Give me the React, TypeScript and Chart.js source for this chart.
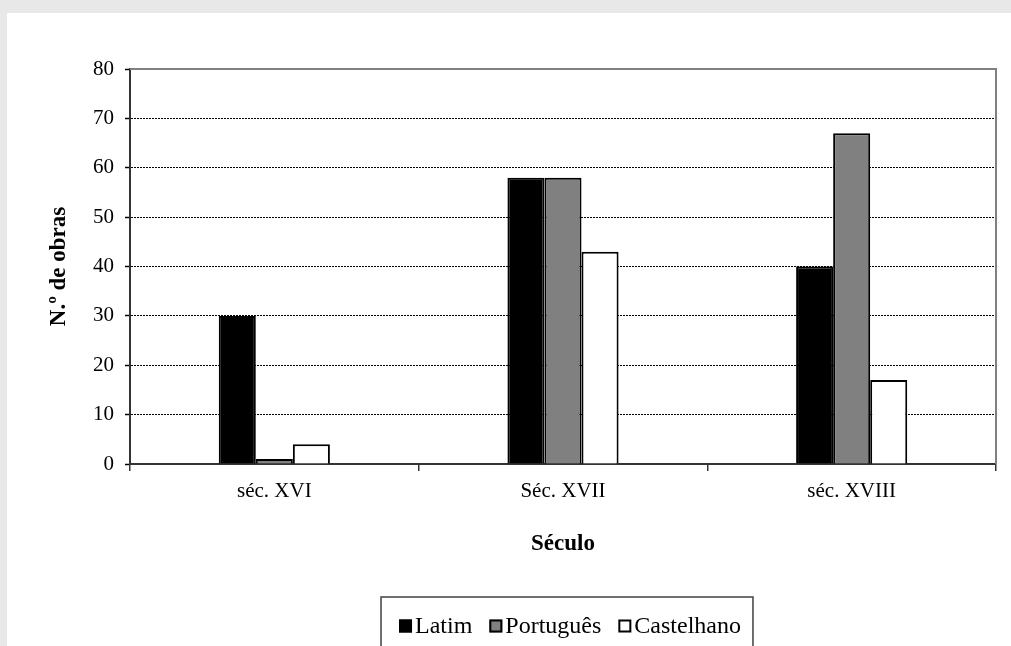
import React, { useEffect, useRef } from "react";
import { Chart, registerables } from "chart.js";

Chart.register(...registerables);

const categories = ["séc. XVI", "Séc. XVII", "séc. XVIII"];
const seriesNames = ["Latim", "Português", "Castelhano"];
const latim = [30, 58, 40];
const portugues = [1, 58, 67];
const castelhano = [4, 43, 17];
const seriesColors = ["#000000", "#808080", "#ffffff"];
const yMin = 0;
const yMax = 80;
const yStep = 10;
const xTitle = "Século";
const yTitle = "N.º de obras";

const SERIF = '"Liberation Serif", "Times New Roman", serif';

const framePlugin = {
  id: "frameLines",
  afterDraw(chart: any) {
    const { ctx, chartArea } = chart;
    ctx.save();
    ctx.strokeStyle = "#808080";
    ctx.lineWidth = 2;
    ctx.beginPath();
    ctx.moveTo(chartArea.left, chartArea.top);
    ctx.lineTo(chartArea.right, chartArea.top);
    ctx.lineTo(chartArea.right, chartArea.bottom);
    ctx.stroke();
    ctx.restore();
  },
};

const legendPlugin = {
  id: "boxedLegend",
  afterDraw(chart: any) {
    const { ctx, chartArea } = chart;
    ctx.save();
    ctx.font = `24px ${SERIF}`;
    const items = chart.data.datasets.map((ds: any) => ({
      label: ds.label as string,
      fill: ds.backgroundColor as string,
      w: ctx.measureText(ds.label).width,
    }));
    const box = 13;
    const gap = 3;
    const spacing = 17;
    const padL = 18;
    const padR = 12;
    const total =
      items.reduce((s: number, it: any) => s + box + gap + it.w, 0) +
      spacing * (items.length - 1);
    const frameW = total + padL + padR;
    const cx = (chartArea.left + chartArea.right) / 2 + 4;
    const left = cx - frameW / 2;
    const top = chartArea.bottom + 133;
    ctx.strokeStyle = "#404040";
    ctx.lineWidth = 1.5;
    ctx.strokeRect(left, top, frameW, 90);
    const cy = top + 29;
    let x = left + padL;
    ctx.textBaseline = "middle";
    ctx.textAlign = "left";
    items.forEach((it: any) => {
      ctx.fillStyle = it.fill;
      ctx.fillRect(x, cy - 6.5, box, box);
      ctx.strokeStyle = "#000";
      ctx.lineWidth = 2;
      ctx.strokeRect(x + 1, cy - 5.5, box - 2, box - 2);
      x += box + gap;
      ctx.fillStyle = "#000";
      ctx.fillText(it.label, x, cy + 1);
      x += it.w + spacing;
    });
    ctx.restore();
  },
};

export default function App() {
  const canvasRef = useRef<HTMLCanvasElement | null>(null);

  useEffect(() => {
    if (!canvasRef.current) return;
    const values = [latim, portugues, castelhano];
    const chart = new Chart(canvasRef.current, {
      type: "bar",
      data: {
        labels: categories,
        datasets: seriesNames.map((name, i) => ({
          label: name,
          data: values[i],
          backgroundColor: seriesColors[i],
          borderColor: "#000000",
          borderWidth: 2,
          barPercentage: 1,
          categoryPercentage: 0.385,
        })),
      },
      options: {
        animation: false,
        responsive: true,
        maintainAspectRatio: false,
        devicePixelRatio: 1,
        layout: { padding: { top: 56, right: 15, left: 30, bottom: 82 } },
        plugins: {
          legend: { display: false },
          tooltip: { enabled: false },
          title: { display: false },
        },
        scales: {
          x: {
            afterFit: (scale: any) => {
              scale.height = 100;
            },
            grid: {
              display: true,
              drawOnChartArea: false,
              drawTicks: true,
              offset: true,
              tickLength: 7,
              color: "#333333",
              lineWidth: 1.5,
            },
            border: { display: true, color: "#333333", width: 2 },
            ticks: {
              color: "#000",
              font: { family: SERIF, size: 21 },
              padding: 8,
              maxRotation: 0,
            },
            title: {
              display: true,
              text: xTitle,
              color: "#000",
              font: { family: SERIF, size: 23, weight: "bold" },
              padding: { top: 0, bottom: 6 },
            },
          },
          y: {
            min: yMin,
            max: yMax,
            afterFit: (scale: any) => {
              scale.width = 93;
            },
            grid: {
              color: "#000000",
              lineWidth: 1,
              drawTicks: true,
              tickLength: 5,
              tickColor: "#000000",
              tickWidth: 1.5,
            },
            border: { display: true, color: "#333333", width: 2, dash: [2, 1] },
            ticks: {
              stepSize: yStep,
              color: "#000",
              font: { family: SERIF, size: 21 },
              padding: 11,
            },
            title: {
              display: true,
              text: yTitle,
              color: "#000",
              font: { family: SERIF, size: 23, weight: "bold" },
              padding: { top: 8, bottom: 0 },
            },
          },
        },
      },
      plugins: [framePlugin, legendPlugin],
    } as any);
    return () => chart.destroy();
  }, []);

  return (
    <div style={{ position: "fixed", inset: 0, background: "#e8e8e8" }}>
      <div
        style={{
          position: "absolute",
          left: 7,
          top: 13,
          width: 1004,
          height: 633,
          background: "#ffffff",
        }}
      >
        <canvas ref={canvasRef} style={{ display: "block" }} />
      </div>
    </div>
  );
}
